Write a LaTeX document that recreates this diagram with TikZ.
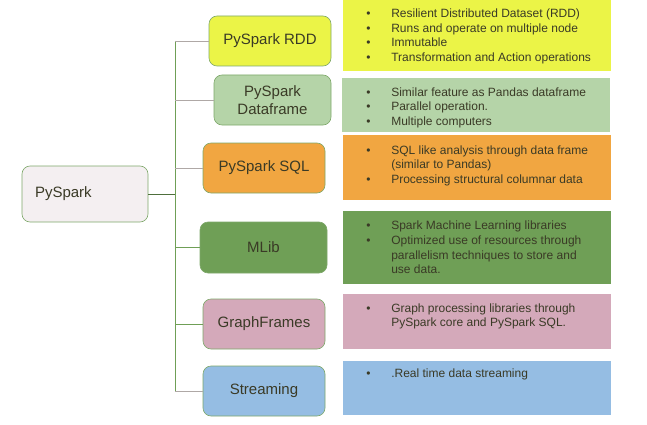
\documentclass[tikz,border=0pt]{standalone}
\usepackage{fontspec}
\setmainfont{Liberation Sans}
\usepackage{tikz}
\usetikzlibrary{positioning}

\definecolor{cRdd}{HTML}{EBF447}
\definecolor{cDf}{HTML}{B5D4A8}
\definecolor{cSql}{HTML}{F1A641}
\definecolor{cMl}{HTML}{6F9F56}
\definecolor{cGf}{HTML}{D4A9BA}
\definecolor{cStr}{HTML}{95BDE3}
\definecolor{cRoot}{HTML}{F4EFF1}
\definecolor{cEdge}{HTML}{7EA86A}
\definecolor{cTxt}{HTML}{3A3A26}
\definecolor{cLink}{HTML}{AFA8A6}

\newcommand{\bul}{\textbullet}

\begin{document}
\begin{tikzpicture}[x=1pt,y=-1pt,semithick]
		\tikzstyle{topic}=[draw=cEdge,rounded corners=8pt,text=cTxt,align=center,
			minimum width=122pt,minimum height=50pt,font=\fontsize{15}{17.5}\selectfont]
		\tikzstyle{panel}=[draw=none,minimum width=268pt,inner sep=0pt]
		\tikzstyle{items}=[anchor=west,inner sep=0pt,text=cTxt,font=\fontsize{12}{14.7}\selectfont]
		\tikzstyle{link}=[draw=cLink,line width=0.9pt]

		\useasboundingbox (0,0) rectangle (647,425);

		\node[topic,fill=cRoot,minimum width=126pt,minimum height=56pt,
			text width=100pt,align=left,inner xsep=13pt] (root) at (85,194) {PySpark};
		\node[topic,fill=cRdd] (rdd) at (270,41) {PySpark RDD};
		\node[topic,fill=cDf,minimum width=117pt] (df) at (272.5,100) {PySpark\\Dataframe};
		\node[topic,fill=cSql] (sql) at (264,168) {PySpark SQL};
		\node[topic,fill=cMl,minimum width=127pt,minimum height=51pt] (mlib) at (263.5,247.5) {MLib};
		\node[topic,fill=cGf] (gf) at (264,324) {GraphFrames};
		\node[topic,fill=cStr] (strm) at (264,391) {Streaming};

		\coordinate (trunk) at (175,194);

		\draw[link,draw=cMl] (rdd.west -| trunk) -- (strm.west -| trunk);
		\draw[link,draw=cMl!70!black] (root) -- (trunk);
		\draw[link] (rdd) -- (rdd.west -| trunk);
		\draw[link] (df) -- (df.west -| trunk);
		\draw[link] (sql) -- (sql.west -| trunk);
		\draw[link,draw=cMl] (mlib) -- (mlib.west -| trunk);
		\draw[link,draw=cMl] (gf) -- (gf.west -| trunk);
		\draw[link] (strm) -- (strm.west -| trunk);

		\node[panel,fill=cRdd,minimum height=71pt] (rddI) at (477,35.5) {};
		\node[panel,fill=cDf,minimum height=54pt] (dfI) at (476,105) {};
		\node[panel,fill=cSql,minimum height=65pt] (sqlI) at (477,167.5) {};
		\node[panel,fill=cMl,minimum height=73pt] (mlibI) at (477,247.5) {};
		\node[panel,fill=cGf,minimum height=55pt] (gfI) at (477,321.5) {};
		\node[panel,fill=cStr,minimum height=54pt] (strmI) at (477,388) {};

		\node[items] (rddT) at (366,36.5) {\begin{tabular}{@{}p{25pt}@{}l@{}}
			\bul & Resilient Distributed Dataset (RDD)\\
			\bul & Runs and operate on multiple node\\
			\bul & Immutable\\
			\bul & Transformation and Action operations
		\end{tabular}};
		\node[items] (dfT) at (366,108) {\begin{tabular}{@{}p{25pt}@{}l@{}}
			\bul & Similar feature as Pandas dataframe\\
			\bul & Parallel operation.\\
			\bul & Multiple computers
		\end{tabular}};
		\node[items] (sqlT) at (366,166) {\begin{tabular}{@{}p{25pt}@{}l@{}}
			\bul & SQL like analysis through data frame\\
			& (similar to Pandas)\\
			\bul & Processing structural columnar data
		\end{tabular}};
		\node[items] (mlibT) at (366,249) {\begin{tabular}{@{}p{25pt}@{}l@{}}
			\bul & Spark Machine Learning libraries\\
			\bul & Optimized use of resources through\\
			& parallelism techniques to store and\\
			& use data.
		\end{tabular}};
		\node[items] (gfT) at (366,316.5) {\begin{tabular}{@{}p{25pt}@{}l@{}}
			\bul & Graph processing libraries through\\
			& PySpark core and PySpark SQL.
		\end{tabular}};
		\node[items] (strmT) at (366,375) {\begin{tabular}{@{}p{25pt}@{}l@{}}
			\bul & .Real time data streaming
		\end{tabular}};
	\end{tikzpicture}
\end{document}
